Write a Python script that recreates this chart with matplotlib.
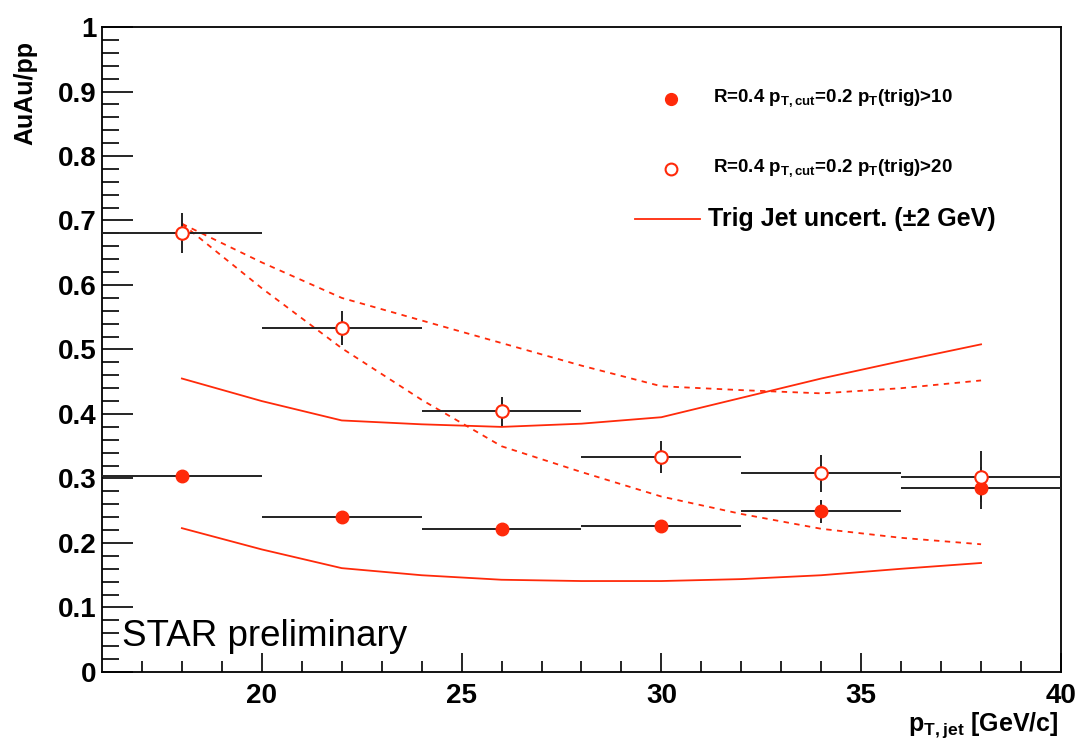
import matplotlib
matplotlib.use("Agg")
import matplotlib.pyplot as plt
import numpy as np

plt.rcParams['font.family'] = ['Liberation Sans', 'DejaVu Sans']
plt.rcParams['mathtext.fontset'] = 'custom'
plt.rcParams['mathtext.rm'] = 'Liberation Sans'
plt.rcParams['mathtext.bf'] = 'Liberation Sans:bold'

# bin centres and half widths (GeV/c)
pt = [18, 22, 26, 30, 34, 38]
pt_halfwidth = [2, 2, 2, 2, 2, 2]

# pT(trig) > 10
trig10 = [0.304, 0.240, 0.221, 0.226, 0.249, 0.285]
trig10_err = [0.005, 0.005, 0.005, 0.005, 0.018, 0.033]

# pT(trig) > 20
trig20 = [0.681, 0.533, 0.404, 0.333, 0.308, 0.303]
trig20_err = [0.031, 0.026, 0.023, 0.025, 0.029, 0.040]

# trig jet uncertainty bands
band_pt = [18, 20, 22, 24, 26, 28, 30, 32, 34, 36, 38]
band10_hi = [0.455, 0.420, 0.390, 0.384, 0.380, 0.385, 0.395, 0.425, 0.455, 0.482, 0.508]
band10_lo = [0.223, 0.190, 0.161, 0.150, 0.143, 0.141, 0.141, 0.144, 0.150, 0.160, 0.169]
band20_hi = [0.695, 0.635, 0.580, 0.545, 0.510, 0.475, 0.443, 0.437, 0.432, 0.440, 0.452]
band20_lo = [0.695, 0.595, 0.502, 0.422, 0.350, 0.310, 0.272, 0.245, 0.222, 0.208, 0.198]

red = '#ff2a0a'

fig = plt.figure(figsize=(10.78, 7.44), dpi=100)
ax = fig.add_axes([0.0946, 0.0968, 0.8896, 0.8669])

# bands
ax.plot(band_pt, band10_hi, color=red, lw=1.3)
ax.plot(band_pt, band10_lo, color=red, lw=1.3)
ax.plot(band_pt, band20_hi, color=red, lw=1.3, dashes=(3, 3))
ax.plot(band_pt, band20_lo, color=red, lw=1.3, dashes=(3, 3))

# data points
ax.errorbar(pt, trig10, xerr=pt_halfwidth, yerr=trig10_err, fmt='none',
            ecolor='#222222', elinewidth=1.4, capsize=0, zorder=3)
ax.plot(pt, trig10, 'o', color=red, ms=9, zorder=4)
ax.errorbar(pt, trig20, xerr=pt_halfwidth, yerr=trig20_err, fmt='none',
            ecolor='#222222', elinewidth=1.4, capsize=0, zorder=3)
ax.plot(pt, trig20, 'o', mfc='white', mec=red, mew=1.5, ms=9, zorder=4)

ax.set_xlim(16, 40)
ax.set_ylim(0, 1)
ax.set_xticks([20, 25, 30, 35, 40])
ax.set_xticks(np.arange(17, 40, 1), minor=True)
ax.set_yticks(np.arange(0, 1.01, 0.1))
ax.set_yticks(np.arange(0, 1.001, 0.02), minor=True)
ax.set_yticklabels(['0', '0.1', '0.2', '0.3', '0.4', '0.5', '0.6', '0.7', '0.8', '0.9', '1'])
ax.tick_params(axis='both', which='both', direction='in', top=False, right=False,
               labelsize=20, width=1.2)
ax.tick_params(axis='x', which='major', length=14, pad=8)
ax.tick_params(axis='x', which='minor', length=8)
ax.tick_params(axis='y', which='major', length=22, pad=4)
ax.tick_params(axis='y', which='minor', length=12)
for lab in ax.get_xticklabels() + ax.get_yticklabels():
    lab.set_fontweight('bold')
for sp in ax.spines.values():
    sp.set_linewidth(1.3)

# legend (hand placed like the ROOT one)
ax.plot([0.593], [0.889], 'o', color=red, ms=8.5, transform=ax.transAxes, clip_on=False)
ax.text(0.637, 0.889, r'R=0.4 p$_{\mathbf{T,cut}}$=0.2 p$_{\mathbf{T}}$(trig)>10', transform=ax.transAxes,
        fontsize=13.5, fontweight='bold', va='center', ha='left')
ax.plot([0.593], [0.780], 'o', mfc='white', mec=red, mew=1.5, ms=8.5, transform=ax.transAxes, clip_on=False)
ax.text(0.637, 0.780, r'R=0.4 p$_{\mathbf{T,cut}}$=0.2 p$_{\mathbf{T}}$(trig)>20', transform=ax.transAxes,
        fontsize=13.5, fontweight='bold', va='center', ha='left')
ax.plot([0.556, 0.624], [0.702, 0.702], color=red, lw=1.3, transform=ax.transAxes)
ax.text(0.632, 0.702, u'Trig Jet uncert. (\u00b12 GeV)', transform=ax.transAxes,
        fontsize=18, fontweight='bold', va='center', ha='left')

ax.text(0.021, 0.055, 'STAR preliminary', transform=ax.transAxes, fontsize=26.5,
        va='center', ha='left')

fig.text(0.024, 0.875, 'AuAu/pp', rotation=90, fontsize=18, fontweight='bold',
         ha='center', va='center')
fig.text(0.982, 0.026, r'p$_{\mathbf{T,jet}}$ [GeV/c]', fontsize=18, fontweight='bold',
         ha='right', va='center')

fig.savefig('out.png', dpi=100)
